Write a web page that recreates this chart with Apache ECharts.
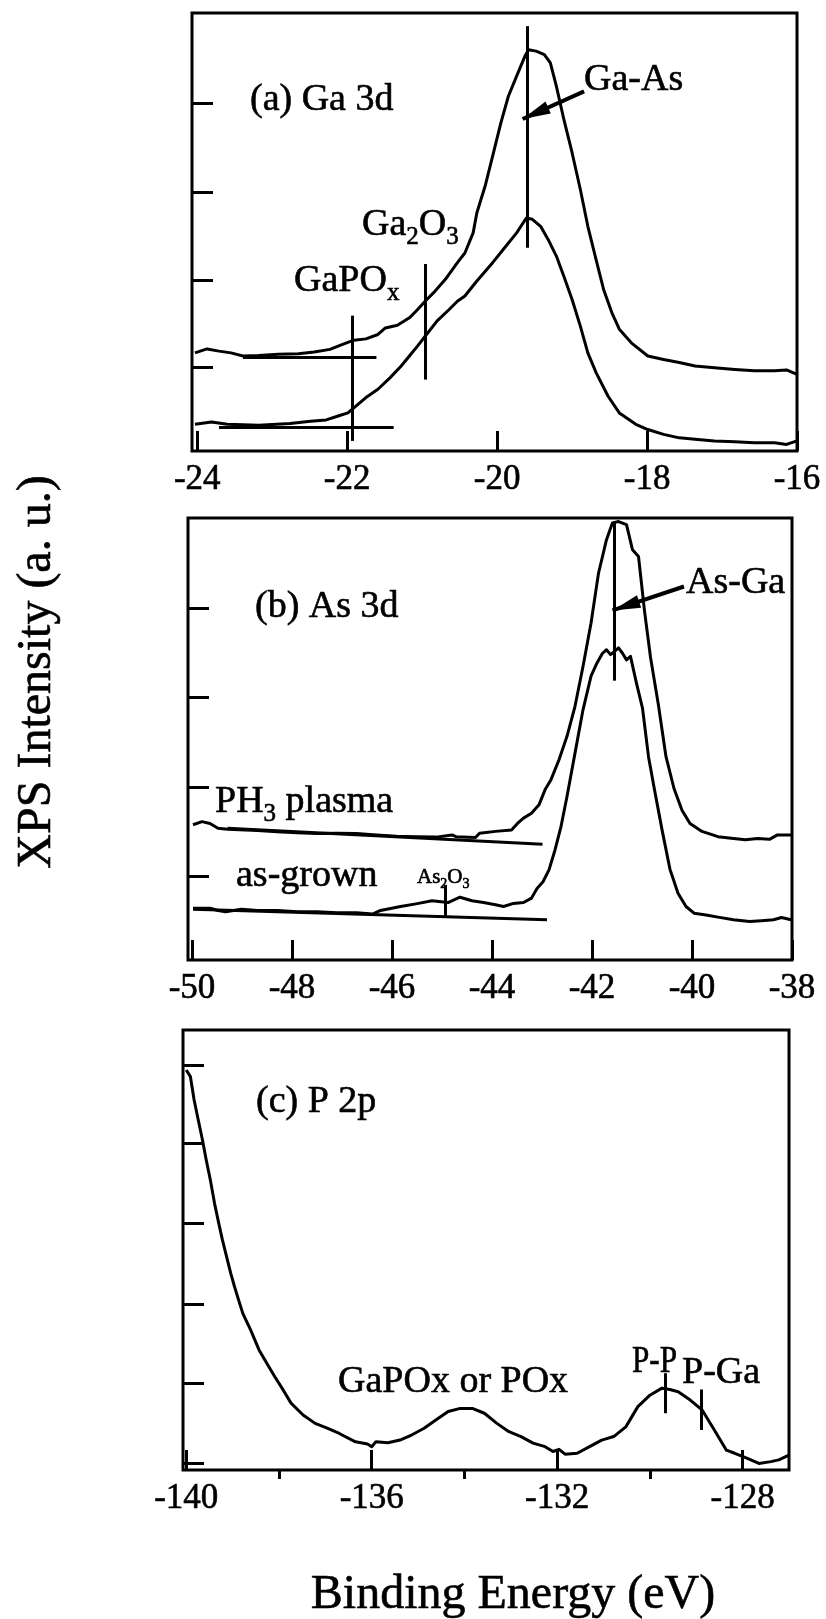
<!DOCTYPE html>
<html>
<head>
<meta charset="utf-8">
<script src="https://cdn.jsdelivr.net/npm/echarts@6/dist/echarts.min.js"></script>
<style>
  html, body { margin: 0; padding: 0; background: #fff; }
  #chart { width: 826px; height: 1619px; }
</style>
</head>
<body>
<div id="chart"></div>
<script>
// ---- (a) Ga 3d : [binding energy (eV), intensity (a.u.)] ----
const gaPlasma = [
  [-24.03,22.4],[-23.87,23.3],[-23.71,22.8],[-23.55,22.4],[-23.39,21.7],[-23.18,21.8],[-22.92,22.1],
  [-22.65,22.2],[-22.44,22.6],[-22.23,23.2],[-22.07,24.3],[-21.91,25.3],[-21.75,25.6],[-21.59,26.6],
  [-21.49,28.1],[-21.33,28.7],[-21.17,30.4],[-21.06,32.3],[-20.96,34.2],[-20.85,36.1],[-20.69,39.2],
  [-20.53,43.0],[-20.43,45.2],[-20.32,49.8],[-20.27,54.4],[-20.16,60.5],[-20.06,67.3],[-19.95,74.9],
  [-19.85,81.0],[-19.74,85.6],[-19.63,90.1],[-19.58,91.6],[-19.48,91.3],[-19.37,90.5],[-19.29,88.6],
  [-19.21,83.3],[-19.11,75.7],[-19.00,68.1],[-18.89,59.7],[-18.79,51.3],[-18.68,43.7],[-18.58,36.9],
  [-18.47,31.6],[-18.37,27.8],[-18.21,24.7],[-17.99,21.7],[-17.78,20.9],[-17.57,20.2],[-17.36,19.4],
  [-17.10,19.0],[-16.83,18.6],[-16.57,18.3],[-16.30,18.3],[-16.14,18.5],[-16.00,17.5]
];
const gaAsGrown = [
  [-24.03,6.1],[-23.81,6.6],[-23.60,6.1],[-23.18,5.9],[-22.76,6.3],[-22.49,6.8],[-22.28,7.1],
  [-22.12,8.0],[-21.99,8.7],[-21.88,10.3],[-21.75,12.2],[-21.59,14.1],[-21.43,16.7],[-21.28,19.4],
  [-21.17,21.7],[-21.06,24.0],[-20.96,26.2],[-20.80,29.7],[-20.64,32.3],[-20.53,34.2],[-20.43,35.4],
  [-20.27,38.8],[-20.06,43.0],[-19.90,46.4],[-19.74,49.8],[-19.61,53.2],[-19.53,52.9],[-19.42,51.3],
  [-19.32,48.3],[-19.21,44.5],[-19.11,39.9],[-19.00,34.6],[-18.89,28.5],[-18.79,22.4],[-18.68,17.9],
  [-18.52,12.5],[-18.37,8.7],[-18.15,6.1],[-17.99,4.9],[-17.78,3.8],[-17.57,3.0],[-17.36,2.7],
  [-17.10,2.3],[-16.83,2.1],[-16.57,1.9],[-16.30,1.9],[-16.14,1.5],[-16.00,2.3]
];
const gaBaselines = [ [[-23.39,21.4],[-21.61,21.4]], [[-23.71,5.5],[-21.38,5.5]] ];
// component positions: [energy, from intensity, to intensity]
const gaMarkers = [ [-21.93,2.3,30.9], [-20.96,16.3,42.7], [-19.60,46.4,97.0] ];
const gaArrow = [[-18.84,82.1],[-19.66,75.8]];
const gaTicks = [-24,-22,-20,-18,-16];

// ---- (b) As 3d ----
const asPlasma = [
  [-49.98,30.6],[-49.80,31.3],[-49.64,30.9],[-49.48,29.8],[-49.29,29.6],[-48.69,29.3],[-48.30,29.0],
  [-47.90,28.8],[-47.50,28.6],[-47.10,28.7],[-46.71,28.6],[-46.31,28.3],[-45.91,28.0],[-45.52,27.9],
  [-45.12,27.8],[-44.80,28.3],[-44.72,27.9],[-44.33,27.7],[-44.25,28.7],[-43.93,29.1],[-43.61,29.4],
  [-43.49,30.9],[-43.37,32.1],[-43.21,33.2],[-43.06,35.1],[-42.94,38.5],[-42.82,40.8],[-42.66,45.3],
  [-42.50,50.6],[-42.34,57.4],[-42.18,66.4],[-42.02,76.2],[-41.87,87.5],[-41.71,95.1],[-41.59,98.9],
  [-41.47,99.2],[-41.31,98.5],[-41.19,92.8],[-41.07,91.3],[-40.95,79.0],[-40.83,68.5],[-40.67,57.6],
  [-40.52,46.0],[-40.36,38.8],[-40.20,33.9],[-40.04,30.9],[-39.80,29.1],[-39.48,27.9],[-39.17,27.5],
  [-38.93,27.2],[-38.69,27.5],[-38.45,27.3],[-38.29,28.3],[-38.02,28.3]
];
const asAsGrown = [
  [-49.98,11.7],[-49.64,11.7],[-49.48,11.2],[-49.33,10.9],[-49.01,11.5],[-48.69,11.2],[-48.29,11.2],
  [-47.90,10.9],[-47.50,10.9],[-47.10,10.7],[-46.71,10.7],[-46.39,10.4],[-46.23,11.2],[-45.83,12.1],
  [-45.52,12.7],[-45.20,13.4],[-44.88,13.0],[-44.64,14.2],[-44.40,13.4],[-44.17,13.0],[-43.93,12.5],
  [-43.77,12.1],[-43.57,12.8],[-43.37,13.0],[-43.21,14.0],[-43.10,16.2],[-42.98,17.7],[-42.86,20.4],
  [-42.74,24.9],[-42.62,30.2],[-42.50,37.0],[-42.34,46.8],[-42.18,56.6],[-42.02,64.2],[-41.90,67.2],
  [-41.79,69.4],[-41.71,70.2],[-41.63,69.1],[-41.55,69.8],[-41.47,70.6],[-41.39,69.4],[-41.31,67.9],
  [-41.23,68.7],[-41.11,62.6],[-40.99,57.0],[-40.87,46.0],[-40.75,38.5],[-40.60,29.5],[-40.44,20.5],
  [-40.28,15.1],[-40.12,12.1],[-39.96,10.6],[-39.72,10.2],[-39.48,9.7],[-39.17,9.1],[-38.85,8.7],
  [-38.61,8.9],[-38.37,9.1],[-38.21,9.6],[-38.02,9.1]
];
const asBaselines = [ [[-49.29,29.8],[-42.99,26.2]], [[-49.98,11.5],[-42.90,9.1]] ];
const asMarkers = [ [-41.55,63.2,99.2], [-44.94,10.0,17.0] ];
const asArrow = [[-40.16,84.5],[-41.59,79.1]];
const asTicks = [-50,-48,-46,-44,-42,-40,-38];

// ---- (c) P 2p ----
const p2p = [
  [-140.00,90.9],[-139.91,89.4],[-139.83,84.1],[-139.74,79.5],[-139.65,75.0],[-139.57,70.5],[-139.48,65.9],
  [-139.39,60.6],[-139.30,56.1],[-139.22,52.3],[-139.13,48.5],[-139.04,44.7],[-138.96,41.7],[-138.87,38.6],
  [-138.78,35.6],[-138.61,31.8],[-138.43,27.3],[-138.26,24.2],[-138.09,21.2],[-137.91,18.2],[-137.74,15.2],
  [-137.48,12.5],[-137.22,10.6],[-136.96,9.5],[-136.70,8.3],[-136.35,6.4],[-136.09,5.9],[-136.00,5.3],
  [-135.91,6.4],[-135.65,6.2],[-135.39,6.8],[-135.13,8.0],[-134.87,9.5],[-134.61,11.4],[-134.35,13.3],
  [-134.09,14.0],[-133.83,14.0],[-133.57,12.9],[-133.30,10.6],[-133.04,8.7],[-132.78,7.6],[-132.52,6.1],
  [-132.26,5.3],[-132.09,4.2],[-131.96,4.7],[-131.83,3.6],[-131.57,3.8],[-131.30,5.3],[-131.04,6.8],
  [-130.78,7.6],[-130.52,9.8],[-130.26,14.4],[-130.00,17.0],[-129.74,18.6],[-129.57,18.3],[-129.39,17.8],
  [-129.13,15.9],[-128.87,13.6],[-128.61,9.1],[-128.35,4.5],[-128.17,3.8],[-127.91,2.7],[-127.65,1.5],
  [-127.39,1.9],[-127.22,2.3],[-127.00,3.4]
];
const pMarkers = [ [-129.67,12.9,22.0], [-128.89,9.1,18.3] ];
const pTicks = [-140,-136,-132,-128];
const pMinorTicks = [-138,-134,-130];

// intensity tick positions on each frame (a.u.)
const gaYTicks = [19.2, 38.9, 59.1, 79.5];
const asYTicks = [18.9, 39.0, 59.5, 79.6];
const pYTicks = [1.6, 19.7, 37.7, 56.1, 74.3, 92.0];

const SERIF = '"Liberation Serif", "Times New Roman", serif';
const ink = '#000';
const LINE_W = 3;

function xAxisFor(gridIndex, min, max, ticks, len, showLabel) {
  return {
    type: 'value', gridIndex, min, max,
    axisLine: { show: false },
    splitLine: { show: false },
    axisTick: { show: true, inside: true, length: len, customValues: ticks,
                lineStyle: { color: ink, width: 3 } },
    axisLabel: { show: showLabel, customValues: ticks, margin: 11,
                 fontFamily: SERIF, fontSize: 35, color: ink,
                 textBorderColor: ink, textBorderWidth: 0.6,
                 showMinLabel: true, showMaxLabel: true }
  };
}
function yAxisFor(gridIndex, ticks) {
  return {
    type: 'value', gridIndex, min: 0, max: 100,
    axisLine: { show: false },
    splitLine: { show: false },
    axisTick: { show: true, inside: true, length: 21, customValues: ticks,
                lineStyle: { color: ink, width: 3 } },
    axisLabel: { show: false }
  };
}

function segments(list) {
  return list.map(s => [{ coord: s[0] }, { coord: s[1] }]);
}
function verticals(list) {
  return list.map(m => [{ coord: [m[0], m[1]] }, { coord: [m[0], m[2]] }]);
}
function curve(name, data, idx, marks) {
  return {
    name, type: 'line', data, xAxisIndex: idx, yAxisIndex: idx,
    showSymbol: false, symbol: 'none', silent: true, animation: false,
    lineStyle: { color: ink, width: LINE_W, join: 'round' },
    markLine: marks ? {
      silent: true, animation: false, symbol: ['none', 'none'],
      label: { show: false },
      lineStyle: { color: ink, width: LINE_W, type: 'solid' },
      data: marks
    } : undefined
  };
}
function arrowSeries(arrow, idx) {
  return {
    type: 'line', data: [], xAxisIndex: idx, yAxisIndex: idx, silent: true, animation: false,
    markLine: {
      silent: true, animation: false,
      symbol: ['none', 'triangle'], symbolSize: [13, 28],
      symbolOffset: [[0, 0], [0, 14]],
      label: { show: false },
      lineStyle: { color: ink, width: 4, type: 'solid' },
      itemStyle: { color: ink },
      data: [[{ coord: arrow[0] }, { coord: arrow[1] }]]
    }
  };
}

// text pieces with subscripts, laid out left to right
const measure = document.createElement('canvas').getContext('2d');
function widthOf(str, size) {
  measure.font = size + 'px ' + SERIF;
  return measure.measureText(str).width;
}
function label(parts, left, midY, size, squeeze) {
  const subSize = Math.round(size * 0.66);
  const sx = squeeze || 1;
  let x = left;
  const out = [];
  parts.forEach(p => {
    const isSub = Array.isArray(p);
    const t = isSub ? p[0] : p;
    const fs = isSub ? subSize : size;
    out.push({
      type: 'text', x, y: midY + (isSub ? size * 0.33 : 0), scaleX: sx, scaleY: 1, silent: true,
      style: { text: t, font: fs + 'px ' + SERIF, fill: ink,
               stroke: ink, lineWidth: 0.6,
               align: 'left', textAlign: 'left', verticalAlign: 'middle', textVerticalAlign: 'middle' }
    });
    x += widthOf(t, fs) * sx;
  });
  return out;
}
function title(text, x, y, rotation) {
  return {
    type: 'text', x, y, rotation: rotation || 0, silent: true,
    style: { text, font: '48px ' + SERIF, fill: ink, stroke: ink, lineWidth: 0.6,
             align: 'center', textAlign: 'center', verticalAlign: 'middle', textVerticalAlign: 'middle' }
  };
}

const texts = [].concat(
  label(['(a) Ga 3d'], 250, 100, 38),
  label(['Ga-As'], 584, 80, 38),
  label(['Ga', ['2'], 'O', ['3']], 362, 225, 38),
  label(['GaPO', ['x']], 294, 281, 38),
  label(['(b) As 3d'], 255, 607, 38),
  label(['As-Ga'], 686, 583, 38),
  label(['PH', ['3'], ' plasma'], 215, 802, 38),
  label(['as-grown'], 236, 876, 38),
  label(['As', ['2'], 'O', ['3']], 417, 877, 21),
  label(['(c) P 2p'], 256, 1102, 38),
  label(['GaPOx or POx'], 338, 1382, 38),
  label(['P-P'], 632, 1362, 38, 0.82),
  label(['P-Ga'], 682, 1373, 38),
  [ title('XPS Intensity (a. u.)', 37, 672, Math.PI / 2),
    title('Binding Energy (eV)', 513, 1595) ]
);

const frame = { show: true, borderColor: ink, borderWidth: 3, backgroundColor: 'transparent',
                containLabel: false, outerBoundsMode: 'none' };

const chart = echarts.init(document.getElementById('chart'), null, { renderer: 'canvas' });
chart.setOption({
  backgroundColor: '#fff',
  animation: false,
  grid: [
    Object.assign({ left: 192, top: 13, width: 605, height: 438 }, frame),
    Object.assign({ left: 188, top: 518, width: 604, height: 442 }, frame),
    Object.assign({ left: 183, top: 1030, width: 606, height: 440 }, frame)
  ],
  xAxis: [
    xAxisFor(0, -24.07, -16, gaTicks, 20, true),
    xAxisFor(1, -50.08, -38, asTicks, 20, true),
    xAxisFor(2, -140.07, -127, pTicks, 20, true),
    xAxisFor(2, -140.07, -127, pMinorTicks, 9, false)
  ],
  yAxis: [ yAxisFor(0, gaYTicks), yAxisFor(1, asYTicks), yAxisFor(2, pYTicks), yAxisFor(2, []) ],
  series: [
    curve('PH3 plasma Ga 3d', gaPlasma, 0, segments(gaBaselines).concat(verticals(gaMarkers))),
    curve('as-grown Ga 3d', gaAsGrown, 0),
    arrowSeries(gaArrow, 0),
    curve('PH3 plasma As 3d', asPlasma, 1, segments(asBaselines).concat(verticals(asMarkers))),
    curve('as-grown As 3d', asAsGrown, 1),
    arrowSeries(asArrow, 1),
    curve('P 2p', p2p, 2, verticals(pMarkers))
  ],
  graphic: { elements: texts }
});
</script>
</body>
</html>
